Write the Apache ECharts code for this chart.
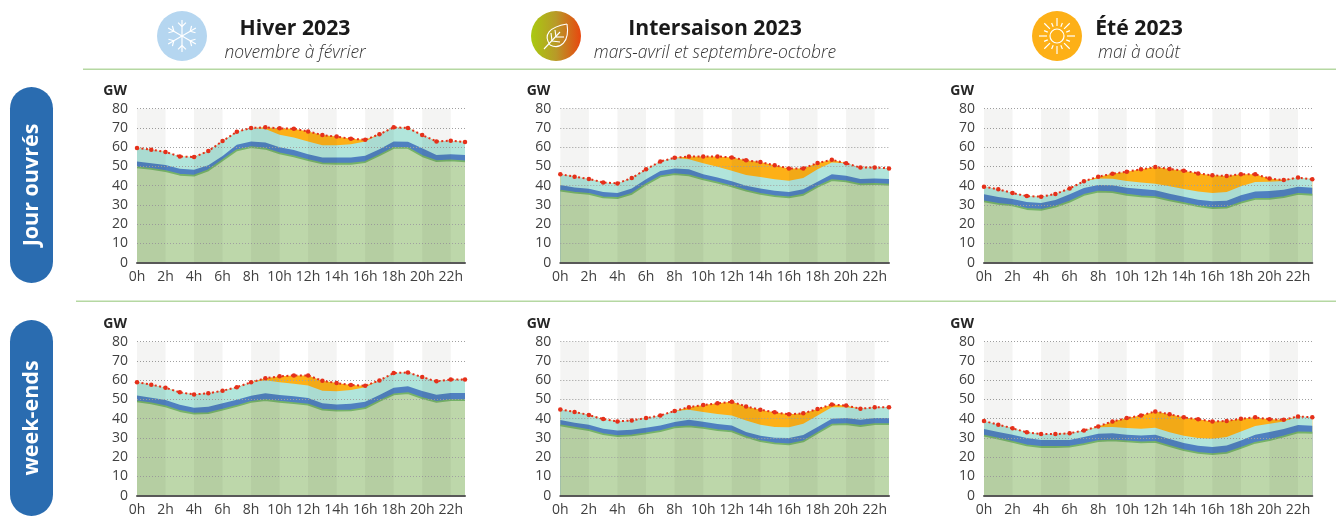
<!DOCTYPE html>
<html lang="fr">
<head>
<meta charset="utf-8">
<title>Hiver, intersaison, été 2023</title>
<style>
  html, body { margin: 0; padding: 0; background: #fff; }
  #main { width: 1336px; height: 526px; }
</style>
</head>
<body>
<div id="main"></div>
<script src="https://cdn.jsdelivr.net/npm/echarts@6/dist/echarts.min.js"></script>
<script>
var hours = ['0h','1h','2h','3h','4h','5h','6h','7h','8h','9h','10h','11h','12h','13h','14h','15h','16h','17h','18h','19h','20h','21h','22h','23h'];
var yTickMax = 80;
var yTickStep = 10;
// grey stripes, start and end hour
var stripes = [['0h','2h'],['4h','6h'],['8h','10h'],['12h','14h'],['16h','18h'],['20h','22h']];

// Hiver, jours ouvrés
var hiverJourRed = [59.6,58.7,57.5,55.2,54.9,58,63.2,68,70,70.3,69.8,69.6,68.2,66.3,65.5,64.4,63.9,66.7,70.3,70,66.3,63,63.4,62.7];
var hiverJourTeal = [59.6,58.7,57.5,55.2,54.9,58,63.2,68,70,69.5,66.5,65,63,61,61,61.5,63,66.7,70.3,70,66.3,63,63.4,62.7];
var hiverJourBlue = [52.6,51.6,50.7,48.8,48.3,50.6,55.4,61.3,63,62.5,60,58.5,56.4,54.7,54.7,54.7,55.6,59,63,62.8,59.4,56,56.3,56];
var hiverJourGreen = [49.5,48.7,47.6,45.7,45.2,48,53.2,58.4,60,59.2,56.8,55.2,53.3,51.6,51.4,51.4,52.3,55.8,59.6,59.6,55.4,52.8,53.2,52.6];

// Intersaison, jours ouvrés
var interJourRed = [45.9,44.7,43.5,41.7,41.2,44,48.5,52.6,54.5,55.2,55.2,55.2,54.7,53.2,52.3,50.6,49,49,51.8,53.5,51.6,49.4,49.5,49];
var interJourTeal = [45.9,44.7,43.5,41.7,41.2,44,48.5,52.6,54.5,53.7,51.6,49.9,47.8,45.5,44.5,43.3,42.6,44,48.5,52.1,51.6,49.4,49.5,49];
var interJourBlue = [40.3,39.1,38.4,36.7,36.2,38.6,43.3,47.6,49,48.5,46,44.2,42.3,40,38.6,37.4,36.7,38.1,42,45.9,45.2,43.5,43.8,43.5];
var interJourGreen = [37.4,36.4,35.7,33.9,33.6,35.8,40.7,44.8,46,45.4,43.3,41.6,39.7,37.4,35.8,34.6,33.9,35.3,39.5,42.9,42.3,40.7,40.9,40.5];

// Été, jours ouvrés
var eteJourRed = [39.5,38.1,36.2,34.6,34.3,35.7,38.6,42.3,44.7,46.2,47.3,48.5,49.7,48.7,47.8,46.4,45.4,45,46,45.9,43.8,42.9,44.2,43.3];
var eteJourTeal = [39.5,38.1,36.2,34.6,34.3,35.7,38.6,42.3,43.8,43.6,42.4,41.7,41,39.7,38.3,37,36.2,36.7,39.7,41.9,42.1,42.4,44.2,43.3];
var eteJourBlue = [35.5,34.1,33.1,31.5,31,32.6,35.5,38.8,40.3,40.2,39,38.3,37.7,35.8,34.3,32.7,31.9,32.2,35,37,37.2,37.9,39.5,39];
var eteJourGreen = [31.9,30.6,29.8,27.9,27.5,29.1,31.7,35.2,36.9,36.7,35.3,34.5,34.1,32.4,31,29.4,28.4,28.6,31.2,33.2,33.2,34.1,35.8,35.3];

// Hiver, week-ends
var hiverWeRed = [58.9,57.7,56.1,53.7,52.6,53.2,54.5,56.4,58.9,61,62,62.5,62.5,59.7,58.5,57.5,57.1,59.9,63.7,64,61.6,59.4,60.3,60.3];
var hiverWeTeal = [58.9,57.7,56.1,53.7,52.6,53.2,54.5,56.4,58.9,60,58.9,58.2,57.3,54.5,54.2,54.9,56.3,59.9,63.7,64,61.6,59.4,60.3,60.3];
var hiverWeBlue = [52.1,50.9,49.7,47.3,45.7,46.2,48,49.9,51.9,53.2,52.3,51.6,50.7,48,47.4,47.8,48.8,52.3,56.1,56.8,54.4,52.5,53.3,53.3];
var hiverWeGreen = [49,48,46.4,44,42.6,42.9,44.7,46.6,48.7,49.7,48.8,48.1,47.3,44.7,44.2,44.3,45.5,49.2,52.6,53.3,50.7,48.7,49.7,49.7];

// Intersaison, week-ends
var interWeRed = [44.8,43.5,41.9,39.8,38.6,39.1,40.3,41.7,44,46,47.1,48,48.8,46.4,44.7,43.3,42.3,42.8,45,47.4,46.8,45.2,45.9,45.9];
var interWeTeal = [44.8,43.5,41.9,39.8,38.6,39.1,40.3,41.7,44,44.7,43.5,42.4,41.7,39.1,36.9,35.7,35.5,37.4,41.6,45.9,46,45.2,45.9,45.9];
var interWeBlue = [39.3,37.9,36.9,34.8,33.9,34.3,35.3,36.5,38.3,39.5,38.4,37.2,36.5,33.1,31.2,30.1,30,31.5,35.7,40,40.3,39.5,40.3,40.3];
var interWeGreen = [36.5,35.3,34.1,32,31,31.3,32.4,33.6,35.5,36,35.2,34.1,33.4,30.6,28.4,27.2,26.7,28.2,32.6,36.9,37.2,36.2,37.2,37.2];

// Été, week-ends
var eteWeRed = [38.8,36.9,35,32.9,32,32,32.4,33.9,36,38.6,40.3,41.7,43.8,42.3,40.7,39.7,38.6,38.8,40,40.7,39.7,39.5,41.2,40.7];
var eteWeTeal = [38.8,36.9,35,32.9,32,32,32.4,33.9,35.5,35.7,35.2,34.8,35.3,33,31.2,30,29.6,30.5,33.4,36.2,37.4,38.6,41.2,40.7];
var eteWeBlue = [34.6,33.1,31.7,30,28.9,28.9,29,30.5,32.2,32.4,31.7,31.3,31.7,29.4,27.4,26,25.3,26.1,28.7,31.7,33.1,34.6,36.7,36.4];
var eteWeGreen = [31.2,29.6,28,26.1,25.3,25.3,25.5,26.8,28.4,28.7,28.2,27.7,28,25.8,23.7,22.2,21.6,22.2,24.8,27.5,28.9,30.8,32.9,32.7];

var FONT = '"Open Sans", sans-serif';

var panels = [
  { left: 137, top: 108.7, width: 328, red: hiverJourRed, teal: hiverJourTeal, blue: hiverJourBlue, green: hiverJourGreen },
  { left: 560.3, top: 108.7, width: 328.7, red: interJourRed, teal: interJourTeal, blue: interJourBlue, green: interJourGreen },
  { left: 984, top: 108.7, width: 328.3, red: eteJourRed, teal: eteJourTeal, blue: eteJourBlue, green: eteJourGreen },
  { left: 137, top: 341.7, width: 328, red: hiverWeRed, teal: hiverWeTeal, blue: hiverWeBlue, green: hiverWeGreen },
  { left: 560.3, top: 341.7, width: 328.7, red: interWeRed, teal: interWeTeal, blue: interWeBlue, green: interWeGreen },
  { left: 984, top: 341.7, width: 328.3, red: eteWeRed, teal: eteWeTeal, blue: eteWeBlue, green: eteWeGreen }
];

var grids = [], xAxes = [], yAxes = [], series = [];

function areaLayer(i, name, data, color, z, lineColor) {
  return {
    name: name,
    type: 'line',
    xAxisIndex: i,
    yAxisIndex: i,
    data: data,
    z: z,
    symbol: 'none',
    silent: true,
    lineStyle: lineColor ? { color: lineColor, width: 1.8 } : { width: 0 },
    areaStyle: { color: color, opacity: 1 }
  };
}

panels.forEach(function (p, i) {
  grids.push({ left: p.left, top: p.top, width: p.width, height: 154 });
  xAxes.push({
    type: 'category',
    gridIndex: i,
    data: hours,
    boundaryGap: false,
    z: 6,
    axisTick: { show: false },
    axisLine: { lineStyle: { color: '#595959', width: 2 } },
    axisLabel: { interval: 1, color: '#404040', fontFamily: FONT, fontSize: 14, margin: 7 },
    splitLine: { show: false }
  });
  yAxes.push({
    type: 'value',
    gridIndex: i,
    min: 0,
    max: yTickMax,
    interval: yTickStep,
    z: 6,
    name: 'GW',
    nameGap: 11,
    nameTextStyle: { color: '#262626', fontFamily: FONT, fontSize: 14, fontWeight: 'bold', align: 'right', padding: [0, 10, 0, 0] },
    axisLine: { show: false },
    axisTick: { show: false },
    axisLabel: { color: '#404040', fontFamily: FONT, fontSize: 14, margin: 9 },
    splitLine: { lineStyle: { color: '#a0a0a0', width: 1, type: [1, 2] } }
  });
  // painted back to front, each one hides what is below its own curve
  series.push(areaLayer(i, 'orange', p.red, '#fdb017', 2));
  series.push(areaLayer(i, 'teal', p.teal, '#b1e5db', 3));
  series.push(areaLayer(i, 'blue', p.blue, '#4f80c0', 4));
  var greenLayer = areaLayer(i, 'green', p.green, '#bdd7aa', 5, '#76b368');
  greenLayer.markArea = {
    silent: true,
    z: 7,
    itemStyle: { color: 'rgba(50,50,40,0.055)' },
    data: stripes.map(function (s) { return [{ xAxis: s[0] }, { xAxis: s[1] }]; })
  };
  series.push(greenLayer);
  series.push({
    name: 'total',
    type: 'line',
    xAxisIndex: i,
    yAxisIndex: i,
    data: p.red,
    z: 8,
    silent: true,
    symbol: 'circle',
    symbolSize: 4.5,
    itemStyle: { color: '#e5301a' },
    lineStyle: { color: '#e5301a', width: 2, type: [2, 2.5] }
  });
});

// header and side decoration
var graphics = [];

function headerText(x, title, sub) {
  graphics.push({ type: 'text', x: x, y: 29, style: { text: title, fontFamily: FONT, fontSize: 21.2, fontWeight: 'bold', fill: '#1a1a1a', align: 'center', verticalAlign: 'middle' } });
  graphics.push({ type: 'text', x: x, y: 53, style: { text: sub, fontFamily: FONT, fontSize: 17.4, fontStyle: 'italic', fontWeight: 300, fill: '#333', align: 'center', verticalAlign: 'middle' } });
}
headerText(295, 'Hiver 2023', 'novembre à février');
headerText(715, 'Intersaison 2023', 'mars-avril et septembre-octobre');
headerText(1139, 'Été 2023', 'mai à août');

function whiteLine(x1, y1, x2, y2, w) {
  graphics.push({ type: 'line', shape: { x1: x1, y1: y1, x2: x2, y2: y2 }, style: { stroke: '#fff', lineWidth: w || 1.2 } });
}

// snowflake
graphics.push({ type: 'circle', shape: { cx: 182, cy: 36, r: 25 }, style: { fill: '#b5d6f0' } });
for (var k = 0; k < 6; k++) {
  var a = k * Math.PI / 3 - Math.PI / 2;
  var bx = 182 + 9.5 * Math.cos(a), by = 36 + 9.5 * Math.sin(a);
  whiteLine(182, 36, 182 + 16 * Math.cos(a), 36 + 16 * Math.sin(a));
  whiteLine(bx, by, bx + 5.5 * Math.cos(a - 0.8), by + 5.5 * Math.sin(a - 0.8));
  whiteLine(bx, by, bx + 5.5 * Math.cos(a + 0.8), by + 5.5 * Math.sin(a + 0.8));
}

// leaf
graphics.push({
  type: 'circle',
  shape: { cx: 556, cy: 36, r: 25 },
  style: { fill: { type: 'linear', x: 0, y: 0, x2: 1, y2: 0, colorStops: [{ offset: 0, color: '#a9ca10' }, { offset: 0.5, color: '#b89a28' }, { offset: 1, color: '#e8470f' }] } }
});
function leafCurve(x1, y1, cx1, cy1, cx2, cy2, x2, y2) {
  graphics.push({ type: 'bezierCurve', shape: { x1: x1, y1: y1, cpx1: cx1, cpy1: cy1, cpx2: cx2, cpy2: cy2, x2: x2, y2: y2 }, style: { fill: 'none', stroke: '#fff', lineWidth: 1.1 } });
}
leafCurve(550, 45, 543, 35, 549, 27, 567, 24);
leafCurve(567, 24, 570, 42, 560, 50, 550, 45);
whiteLine(544, 49, 560, 32, 1.1);
whiteLine(552, 41, 551, 33, 1.1);
whiteLine(556, 37, 555, 30, 1.1);
whiteLine(552, 41, 560, 42, 1.1);
whiteLine(556, 37, 564, 37, 1.1);

// sun
graphics.push({ type: 'circle', shape: { cx: 1057, cy: 36, r: 25 }, style: { fill: '#fdb017' } });
graphics.push({ type: 'circle', shape: { cx: 1057, cy: 36, r: 7 }, style: { fill: 'none', stroke: '#fff', lineWidth: 1.2 } });
for (var s = 0; s < 16; s++) {
  var ang = s * Math.PI / 8;
  var outer = s % 2 ? 14 : 18;
  whiteLine(1057 + 10 * Math.cos(ang), 36 + 10 * Math.sin(ang), 1057 + outer * Math.cos(ang), 36 + outer * Math.sin(ang));
}

// rules
graphics.push({ type: 'rect', shape: { x: 83, y: 68.5, width: 1253, height: 1.5 }, style: { fill: '#b5d8a2' } });
graphics.push({ type: 'rect', shape: { x: 76, y: 300.5, width: 1260, height: 1.5 }, style: { fill: '#b5d8a2' } });

// row labels
function rowPill(top, label) {
  graphics.push({ type: 'rect', shape: { x: 10, y: top, width: 43, height: 196, r: 21.5 }, style: { fill: '#2a6cb0' } });
  graphics.push({ type: 'text', x: 31.5, y: top + 98, rotation: Math.PI / 2, style: { text: label, fontFamily: FONT, fontSize: 21.5, fontWeight: 'bold', fill: '#fff', align: 'center', verticalAlign: 'middle' } });
}
rowPill(87, 'Jour ouvrés');
rowPill(320, 'week-ends');

var chart = echarts.init(document.getElementById('main'));
chart.setOption({
  animation: false,
  backgroundColor: '#fff',
  grid: grids,
  xAxis: xAxes,
  yAxis: yAxes,
  series: series,
  graphic: graphics
});
</script>
</body>
</html>
